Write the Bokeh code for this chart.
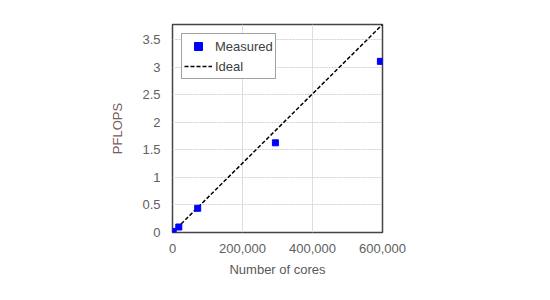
from bokeh.plotting import figure
from bokeh.models import NumeralTickFormatter, FixedTicker, Range1d, Legend, LegendItem
from bokeh.embed import file_html
from bokeh.resources import INLINE

cores = [2000, 18000, 72000, 294000, 594000]
pflops = [0.02, 0.1, 0.44, 1.63, 3.11]
ideal_cores = [0, 600000]
ideal_pflops = [0, 3.78]
x_ticks = [0, 200000, 400000, 600000]
y_ticks = [0, 0.5, 1, 1.5, 2, 2.5, 3, 3.5]

FONT = "Liberation Sans"

p = figure(width=550, height=300, output_backend="svg", toolbar_location=None,
           x_range=Range1d(0, 600000), y_range=Range1d(0, 3.78),
           min_border_left=172, min_border_right=168, min_border_top=24, min_border_bottom=68)

p.outline_line_color = "#444444"
p.outline_line_width = 1.5

for ax in (p.xaxis, p.yaxis):
    ax.axis_line_color = None
    ax.major_tick_line_color = None
    ax.minor_tick_line_color = None
    ax.major_label_text_font = FONT
    ax.major_label_text_font_size = "13px"
    ax.major_label_text_color = "#606060"
    ax.axis_label_text_font = FONT
    ax.axis_label_text_font_size = "13px"
    ax.axis_label_text_font_style = "normal"

p.xaxis.ticker = FixedTicker(ticks=x_ticks)
p.yaxis.ticker = FixedTicker(ticks=y_ticks)
p.xaxis.formatter = NumeralTickFormatter(format="0,0")
p.yaxis.formatter = NumeralTickFormatter(format="0.[0]")
p.xaxis.axis_label = "Number of cores"
p.yaxis.axis_label = "PFLOPS"
p.xaxis.axis_label_text_color = "#595959"
p.yaxis.axis_label_text_color = "#7a5a5a"
p.xaxis.major_label_standoff = 5
p.yaxis.major_label_standoff = 6
p.xaxis.axis_label_standoff = 6
p.yaxis.axis_label_standoff = 14

p.xgrid.grid_line_color = "#dddddd"
p.ygrid.grid_line_color = "#d0d0d0"
p.ygrid.grid_line_dash = "2 1"

r_ideal = p.line(ideal_cores, ideal_pflops, line_color="black", line_width=1.5, line_dash="4 2")
r_meas = p.scatter(cores, pflops, marker="square", size=6, fill_color="#0000ff", line_color="#0000ff")

legend = Legend(items=[LegendItem(label="Measured", renderers=[r_meas]),
                       LegendItem(label="Ideal", renderers=[r_ideal])],
                location="top_left")
legend.margin = 9
legend.padding = 2
legend.spacing = 0
legend.glyph_width = 28
legend.glyph_height = 20
legend.label_standoff = 3
legend.label_text_font = FONT
legend.label_text_font_size = "13px"
legend.label_text_color = "#404040"
legend.border_line_color = "#444444"
legend.border_line_width = 1.5
legend.background_fill_alpha = 1.0
p.add_layout(legend, "center")

open("out.html", "w").write(file_html(p, INLINE))
